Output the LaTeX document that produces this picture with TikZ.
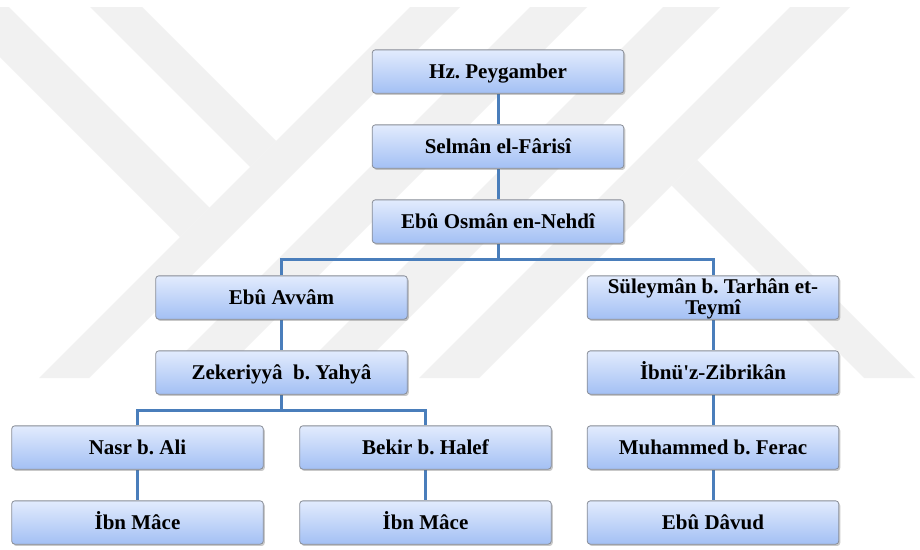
\documentclass[tikz,border=0pt]{standalone}
\usepackage{fontspec}
\setmainfont{Liberation Serif}[Ligatures=TeXOff]
\usetikzlibrary{shadows}
\definecolor{conncol}{RGB}{74,126,187}
\definecolor{boxtop}{RGB}{226,235,253}
\definecolor{boxbot}{RGB}{163,192,244}
\definecolor{boxline}{RGB}{135,140,150}
\definecolor{wmark}{RGB}{241,241,241}
\pgfdeclarelayer{wmk}
\pgfdeclarelayer{bg}
\pgfsetlayers{wmk,bg,main}
\tikzset{
  person/.style={draw=boxline, line width=0.8pt, rounded corners=3pt,
    top color=boxtop, bottom color=boxbot,
    minimum width=251.5pt, minimum height=43.3pt, inner sep=0pt,
    font=\frenchspacing\bfseries\fontsize{21}{20}\selectfont,
    text height=15pt, text depth=2pt,
    drop shadow={shadow xshift=1.5pt, shadow yshift=-1.8pt, opacity=0.35, fill=black!60}},
  conn/.style={draw=conncol, line width=3pt},
  wm/.style={fill=wmark, draw=none}
}
\begin{document}
\frenchspacing
\begin{tikzpicture}[x=1pt,y=-1pt]
\useasboundingbox (0,0) rectangle (920,549);
\begin{pgfonlayer}{wmk}
\fill[white] (0,0) rectangle (920,549);
\fill[wm] (0,7) -- (9,7) -- (209.5,207.5) -- (180,237) -- (0,57) -- cycle;
\fill[wm] (90,7) -- (142,7) -- (276,141) -- (250,167) -- cycle;
\fill[wm] (410,7) -- (460,7) -- (89,378) -- (39,378) -- cycle;
\fill[wm] (530,7) -- (587,7) -- (216,378) -- (159,378) -- cycle;
\fill[wm] (663,7) -- (720,7) -- (349,378) -- (292,378) -- cycle;
\fill[wm] (790,7) -- (850,7) -- (479,378) -- (419,378) -- cycle;
\fill[wm] (671.5,185.5) -- (697,160) -- (915,378) -- (864,378) -- cycle;
\end{pgfonlayer}

\node[person] (hz)  at (498,71.5)  {Hz. Peygamber};
\node[person] (sel) at (498,146.5) {Selmân el-Fârisî};
\node[person] (osm) at (498,221.5) {Ebû Osmân en-Nehdî};
\node[person] (avv) at (281.5,297.5) {Ebû Avvâm};
\node[person, text height=14pt, text depth=21.4pt] (sul) at (713,297.5)
  {\begin{tabular}[t]{@{}c@{}}Süleymân b. Tarhân et-\\Teymî\end{tabular}};
\node[person] (zek) at (281.5,372.5) {Zekeriyyâ\ \ b. Yahyâ};
\node[person] (ibz) at (713,372.5) {İbnü'z-Zibrikân};
\node[person] (nas) at (137.5,447.5) {Nasr b. Ali};
\node[person] (bek) at (425.5,447.5) {Bekir b. Halef};
\node[person] (muh) at (713,447.5) {Muhammed b. Ferac};
\node[person] (im1) at (137.5,522.5) {İbn Mâce};
\node[person] (im2) at (425.5,522.5) {İbn Mâce};
\node[person] (ebd) at (713,522.5) {Ebû Dâvud};

\coordinate (j1) at (0,259.5);
\coordinate (j2) at (0,410.5);
\begin{pgfonlayer}{bg}
\draw[conn] (hz.south) -- (sel.north);
\draw[conn] (sel.south) -- (osm.north);
\draw[conn] (osm.south) -- (osm.south |- j1);
\draw[conn] (avv.north) |- (osm.south |- j1) -| (sul.north);
\draw[conn] (avv.south) -- (zek.north);
\draw[conn] (sul.south) -- (ibz.north);
\draw[conn] (zek.south) -- (zek.south |- j2);
\draw[conn] (nas.north) |- (zek.south |- j2) -| (bek.north);
\draw[conn] (ibz.south) -- (muh.north);
\draw[conn] (muh.south) -- (ebd.north);
\draw[conn] (nas.south) -- (im1.north);
\draw[conn] (bek.south) -- (im2.north);
\end{pgfonlayer}
\end{tikzpicture}
\end{document}
